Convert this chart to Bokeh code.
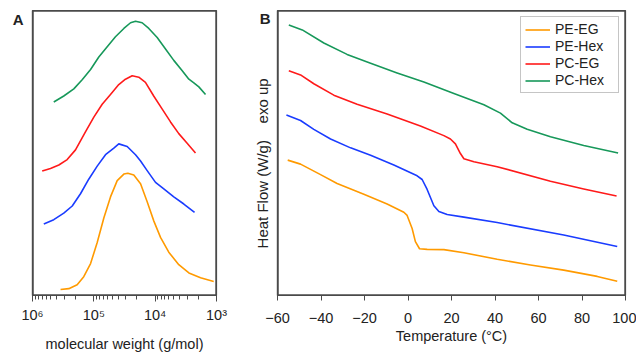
from bokeh.plotting import figure
from bokeh.layouts import row
from bokeh.models import Range1d, FixedTicker, Legend, LegendItem
from bokeh.embed import file_html
from bokeh.resources import INLINE

# ---------------- Panel A: GPC traces (offset, arbitrary units) ----------------
mw_pe_eg = [3.49e5, 2.56e5, 1.87e5, 1.46e5, 1.13e5, 8.81e4, 6.87e4, 5.35e4, 4.16e4,
            3.24e4, 2.79e4, 2.23e4, 1.73e4, 1.35e4, 1.05e4, 8.18e3, 6.00e3, 4.12e3,
            2.82e3, 1.82e3, 1.11e3]
sig_pe_eg = [2.1, 2.4, 3.8, 6.6, 11.2, 18.6, 27.2, 34.6, 40.3, 42.6, 42.9, 42.3, 39.2,
             32.9, 26.1, 20.4, 15.2, 10.8, 7.9, 6.2, 4.9]

mw_pe_hex = [6.54e5, 4.50e5, 3.09e5, 2.25e5, 1.65e5, 1.21e5, 8.81e4, 6.45e4, 4.72e4,
             3.92e4, 2.86e4, 2.09e4, 1.73e4, 1.35e4, 9.87e3, 7.23e3, 4.97e3, 3.41e3,
             2.28e3]
sig_pe_hex = [25.1, 26.6, 28.9, 31.4, 35.7, 40.8, 45.4, 49.4, 51.7, 53.2, 52.3, 49.4,
              47.2, 43.8, 39.7, 37.4, 34.6, 32.1, 29.2]

mw_pc_eg = [6.95e5, 5.09e5, 3.72e5, 2.72e5, 1.99e5, 1.37e5, 1.00e5, 7.31e4, 5.35e4,
            3.92e4, 3.05e4, 2.37e4, 1.85e4, 1.44e4, 1.05e4, 7.67e3, 5.62e3, 4.12e3,
            3.01e3, 2.20e3]
sig_pc_eg = [43.7, 44.6, 45.8, 47.7, 51.1, 57.4, 62.6, 67.1, 70.5, 74.0, 75.9, 77.1,
             76.6, 74.8, 69.9, 65.4, 60.9, 56.8, 53.4, 50.0]

mw_pc_hex = [4.50e5, 3.09e5, 2.12e5, 1.55e5, 1.13e5, 8.30e4, 6.05e4, 4.44e4, 3.24e4,
             2.52e4, 2.09e4, 1.63e4, 1.27e4, 9.27e3, 6.78e3, 4.97e3, 3.62e3, 2.82e3,
             2.34e3, 1.94e3, 1.51e3]
sig_pc_hex = [67.9, 70.0, 72.5, 75.7, 79.3, 83.7, 87.3, 90.8, 93.7, 95.7, 96.2, 95.7,
              93.7, 90.5, 86.5, 82.5, 78.9, 75.9, 74.6, 73.2, 70.5]

mw_ticks = [1e6, 1e5, 1e4, 1e3]
mw_tick_labels = ["10\u2076", "10\u2075", "10\u2074", "10\u00b3"]
mw_minor = [m * k for m in [1e5, 1e4, 1e3] for k in range(2, 10)]
mw_lim = (1e6, 1e3)
sig_lim = (0, 100)

# ---------------- Panel B: DSC traces ----------------
t_pe_eg = [-55.3, -49.4, -40.2, -32.6, -20.3, -9.6, -1.9, -0.4, 1.9, 3.4, 5.3, 8.8,
           16.5, 25.7, 41.0, 56.3, 71.6, 87.0, 96.2]
hf_pe_eg = [4.75, 4.61, 4.24, 3.93, 3.55, 3.21, 2.92, 2.81, 2.35, 1.89, 1.64, 1.62,
            1.61, 1.50, 1.27, 1.07, 0.89, 0.67, 0.50]

t_pe_hex = [-55.9, -49.4, -43.3, -35.6, -26.4, -17.2, -6.5, 4.2, 6.5, 8.8, 11.9, 14.2,
            18.0, 25.7, 41.0, 71.6, 96.2]
hf_pe_hex = [6.33, 6.14, 5.83, 5.49, 5.18, 4.92, 4.58, 4.20, 4.07, 3.72, 3.15, 2.95,
             2.84, 2.75, 2.56, 2.12, 1.72]

t_pc_eg = [-54.8, -49.4, -43.3, -34.1, -23.4, -9.6, 5.7, 16.5, 19.5, 21.8, 24.1, 25.7,
           30.3, 41.0, 65.5, 80.8, 95.9]
hf_pc_eg = [7.89, 7.74, 7.43, 7.03, 6.71, 6.37, 5.95, 5.61, 5.49, 5.32, 4.98, 4.80,
            4.69, 4.52, 4.01, 3.74, 3.49]

t_pc_hex = [-54.8, -48.6, -38.7, -28.0, -17.2, -5.0, 7.3, 21.1, 34.9, 42.5, 47.9, 54.8,
            65.5, 80.8, 96.6]
hf_pc_hex = [9.49, 9.32, 8.86, 8.46, 8.15, 7.81, 7.49, 7.09, 6.69, 6.40, 6.06, 5.83,
             5.57, 5.26, 5.00]

t_ticks = [-60, -40, -20, 0, 20, 40, 60, 80, 100]
t_lim = (-60, 100)
hf_lim = (0, 10)
series_names = ["PE-EG", "PE-Hex", "PC-EG", "PC-Hex"]
panel_tags = ["A", "B"]

# ---------------- styles ----------------
FONT = "Liberation Sans"
C_OR, C_BL, C_RD, C_GR = "#FF9A00", "#1A3CFF", "#FF1A1A", "#17985A"
LW = 1.6
OUT = "#4a4a4a"
TXT = "#222222"


def frame_box(p, xlim, ylim):
    # frame border drawn along the range limits (half of the width is clipped)
    x0, x1 = xlim
    y0, y1 = ylim
    p.line([x0, x0], [y0, y1], line_color=OUT, line_width=2.4)
    p.line([x1, x1], [y0, y1], line_color=OUT, line_width=2.4)
    p.line([x0, x1], [y1, y1], line_color=OUT, line_width=2.4)
    p.line([x0, x1], [y0, y0], line_color=OUT, line_width=2.4)


# ---------------- Figure A ----------------
pA = figure(width=230, height=354, output_backend="svg", toolbar_location=None,
            x_axis_type="log", x_range=Range1d(*mw_lim), y_range=Range1d(*sig_lim),
            min_border_left=32, min_border_right=14, min_border_top=9, min_border_bottom=53)
pA.grid.visible = False
pA.outline_line_color = OUT
pA.outline_line_width = 1.2

for xs, ys, c in [(mw_pe_eg, sig_pe_eg, C_OR), (mw_pe_hex, sig_pe_hex, C_BL),
                  (mw_pc_eg, sig_pc_eg, C_RD), (mw_pc_hex, sig_pc_hex, C_GR)]:
    pA.line(xs, ys, line_color=c, line_width=LW, line_join="round")
frame_box(pA, mw_lim, sig_lim)

ax = pA.xaxis[0]
ax.ticker = FixedTicker(ticks=mw_ticks, minor_ticks=mw_minor)
ax.major_label_overrides = {float(t): l for t, l in zip(mw_ticks, mw_tick_labels)}
ax.axis_line_color = OUT
ax.axis_line_width = 1.2
ax.major_tick_line_color = OUT
ax.minor_tick_line_color = OUT
ax.major_tick_in = 0
ax.major_tick_out = 6
ax.minor_tick_in = 0
ax.minor_tick_out = 4
ax.major_label_text_font = FONT
ax.major_label_text_font_size = "14.5px"
ax.major_label_text_color = TXT
ax.major_label_standoff = 5
ax.axis_label = "molecular weight (g/mol)"
ax.axis_label_text_font = FONT
ax.axis_label_text_font_size = "14.5px"
ax.axis_label_text_font_style = "normal"
ax.axis_label_text_color = TXT
ax.axis_label_standoff = 10

# panel tag "A" as a single y-axis tick label near the top
ay = pA.yaxis[0]
ay.ticker = FixedTicker(ticks=[97], minor_ticks=[])
ay.major_label_overrides = {97: panel_tags[0]}
ay.major_label_text_font = FONT
ay.major_label_text_font_size = "15px"
ay.major_label_text_font_style = "bold"
ay.major_label_text_color = TXT
ay.major_label_standoff = 9
ay.major_tick_out = 0
ay.major_tick_in = 0
ay.minor_tick_out = 0
ay.major_tick_line_color = None
ay.axis_line_color = OUT
ay.axis_line_width = 1.2

# ---------------- Figure B ----------------
pB = figure(width=406, height=354, output_backend="svg", toolbar_location=None,
            x_range=Range1d(*t_lim), y_range=Range1d(*hf_lim),
            min_border_left=47, min_border_right=11, min_border_top=10, min_border_bottom=52)
pB.grid.visible = False
pB.outline_line_color = OUT
pB.outline_line_width = 1.2

renderers = []
for xs, ys, c in [(t_pe_eg, hf_pe_eg, C_OR), (t_pe_hex, hf_pe_hex, C_BL),
                  (t_pc_eg, hf_pc_eg, C_RD), (t_pc_hex, hf_pc_hex, C_GR)]:
    renderers.append(pB.line(xs, ys, line_color=c, line_width=LW, line_join="round"))
frame_box(pB, t_lim, hf_lim)

bx = pB.xaxis[0]
bx.ticker = FixedTicker(ticks=t_ticks, minor_ticks=[])
bx.axis_line_color = OUT
bx.axis_line_width = 1.2
bx.major_tick_line_color = OUT
bx.major_tick_in = 0
bx.major_tick_out = 5
bx.minor_tick_out = 0
bx.major_label_text_font = FONT
bx.major_label_text_font_size = "14.5px"
bx.major_label_text_color = TXT
bx.major_label_standoff = 12
bx.axis_label = "Temperature (\u00b0C)"
bx.axis_label_text_font = FONT
bx.axis_label_text_font_size = "14.5px"
bx.axis_label_text_font_style = "normal"
bx.axis_label_text_color = TXT
bx.axis_label_standoff = 2

by = pB.yaxis[0]
by.ticker = FixedTicker(ticks=[9.72], minor_ticks=[])
by.major_label_overrides = {9.72: panel_tags[1]}
by.major_label_text_font = FONT
by.major_label_text_font_size = "15px"
by.major_label_text_font_style = "bold"
by.major_label_text_color = TXT
by.major_label_standoff = 7
by.major_tick_out = 0
by.major_tick_in = 0
by.minor_tick_out = 0
by.major_tick_line_color = None
by.axis_line_color = OUT
by.axis_line_width = 1.2
by.axis_label = "Heat Flow (W/g)\u00a0\u00a0\u00a0\u00a0exo up\u00a0\u00a0\u00a0\u00a0\u00a0"
by.axis_label_text_font = FONT
by.axis_label_text_font_size = "15px"
by.axis_label_text_font_style = "normal"
by.axis_label_text_color = TXT
by.axis_label_standoff = -14

legend = Legend(items=[LegendItem(label=n, renderers=[r]) for n, r in zip(series_names, renderers)],
                location="top_right", margin=6, padding=4, spacing=1,
                glyph_width=25, glyph_height=15, label_height=15, label_width=59,
                label_standoff=5, label_text_font=FONT, label_text_font_size="14px",
                label_text_color=TXT, border_line_color="#8c8c8c", border_line_width=1,
                background_fill_color="white", background_fill_alpha=1.0)
pB.add_layout(legend)

layout = row(pA, pB)
open("out.html", "w").write(file_html(layout, INLINE))
